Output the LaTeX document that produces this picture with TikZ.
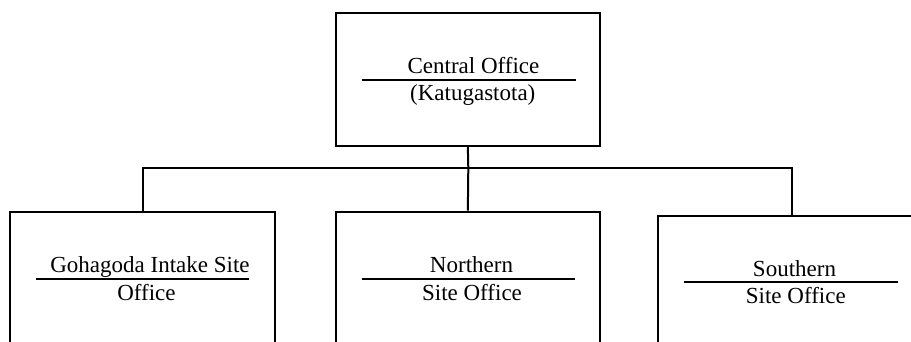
\documentclass[tikz,border=0pt]{standalone}
\usepackage{fontspec}
\setmainfont{Liberation Serif}
\begin{document}
\begin{tikzpicture}[x=1pt,y=-1pt,
  officebox/.style={draw, line width=2pt, rectangle, inner sep=0pt},
  caption/.style={inner sep=0pt, anchor=base, font=\fontsize{23}{27}\selectfont},
  rule/.style={line width=2pt},
  link/.style={line width=2pt}]
  \useasboundingbox (0,0) rectangle (911,342);
  \clip (0,0) rectangle (911,342);

  % office boxes (the lower three run past the bottom edge)
  \node[officebox, minimum width=264.3pt, minimum height=132.5pt] (central) at (467.85,79.75) {};
  \node[officebox, minimum width=265pt, minimum height=200pt] (gohagoda) at (142.5,312.3) {};
  \node[officebox, minimum width=264.3pt, minimum height=200pt] (northern) at (467.85,311.7) {};
  \node[officebox, minimum width=267.4pt, minimum height=200pt] (southern) at (791.7,315.7) {};

  % connector bus
  \coordinate (bus) at (468.3,168.3);
  \coordinate (busL) at (142.5,168.3);
  \coordinate (busR) at (791.7,168.3);
  \draw[link] (central.south) -- (bus) -- (northern.north);
  \draw[link] (gohagoda.north) -- (busL) -- (busR) -- (southern.north);

  % central office label
  \draw[rule] (361.7,80) -- (575.7,80);
  \node[caption] (c1) at (473.5,73.5) {Central Office};
  \node[caption] (c2) at (472.8,101) {(Katugastota)};

  % Gohagoda label
  \draw[rule] (36,279) -- (249,279);
  \node[caption] (g1) at (150,272.5) {Gohagoda Intake Site};
  \node[caption] (g2) at (146.5,300.5) {Office};

  % Northern label
  \draw[rule] (361.7,279) -- (575,279);
  \node[caption] (n1) at (471.5,272.7) {Northern};
  \node[caption] (n2) at (472,300.7) {Site Office};

  % Southern label
  \draw[rule] (684,281.7) -- (898,281.7);
  \node[caption] (s1) at (794.5,276) {Southern};
  \node[caption] (s2) at (795.8,303.3) {Site Office};
\end{tikzpicture}
\end{document}
